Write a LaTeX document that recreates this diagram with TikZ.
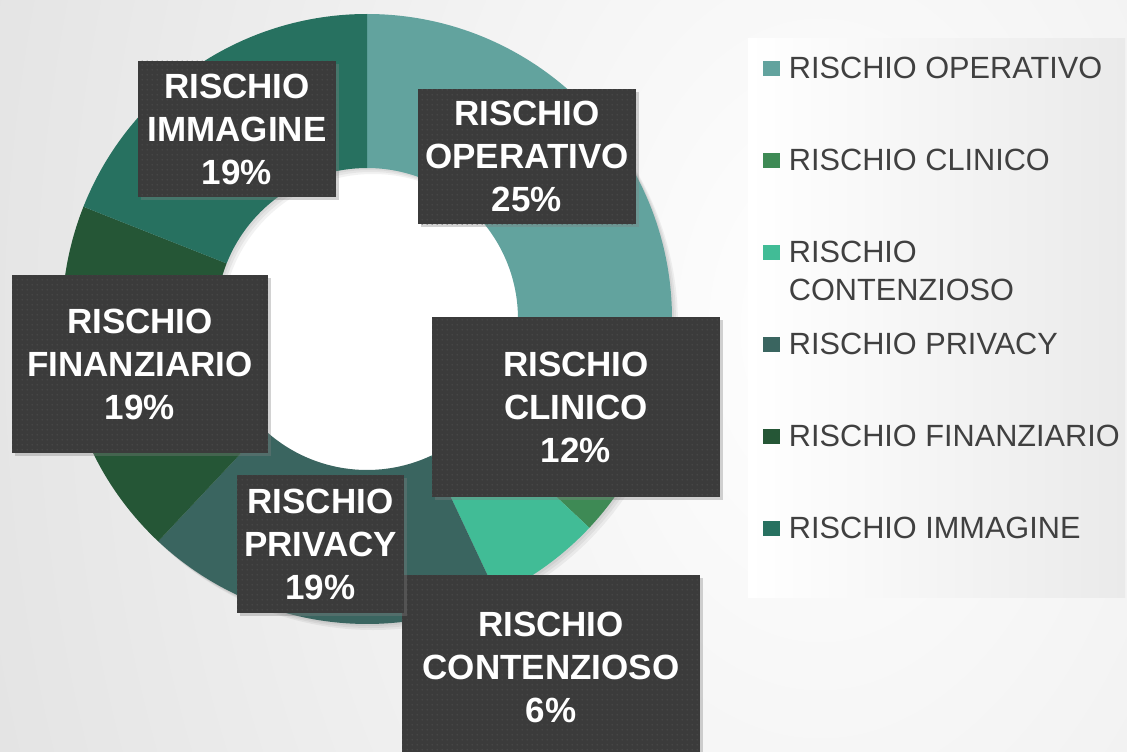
\documentclass[tikz,border=0pt]{standalone}
\usepackage{fontspec}
\setmainfont{Liberation Sans}
\usetikzlibrary{shadows,patterns}

\definecolor{riskop}{HTML}{62A39E}
\definecolor{riskcl}{HTML}{3E8A55}
\definecolor{riskcn}{HTML}{41BC96}
\definecolor{riskpr}{HTML}{3A6560}
\definecolor{riskfi}{HTML}{255636}
\definecolor{riskim}{HTML}{277160}
\definecolor{labelgray}{HTML}{3B3B3B}
\definecolor{labeldot}{HTML}{525252}
\definecolor{legendtext}{HTML}{404040}
\definecolor{legendgray}{HTML}{EAEAEA}
\definecolor{bggray}{HTML}{CDCDCD}

\pgfdeclarepatternformonly{labeldots}{\pgfpointorigin}{\pgfqpoint{5pt}{5pt}}{\pgfqpoint{5pt}{5pt}}{%
  \pgfpathcircle{\pgfqpoint{2.5pt}{2.5pt}}{0.8pt}\pgfusepath{fill}}

\tikzset{
  riskbox/.style={drop shadow={shadow xshift=3pt,shadow yshift=-3pt,opacity=.35},
    preaction={fill=labelgray},pattern=labeldots,pattern color=labeldot,
    inner sep=0pt,align=center,text=white,font=\fontsize{35}{43}\selectfont\bfseries},
  legkey/.style={fill=#1,minimum width=17pt,minimum height=15pt,inner sep=0pt},
  legtext/.style={anchor=north west,inner sep=0pt,align=left,text=legendtext,
    font=\fontsize{30.7}{38}\selectfont},
}

\begin{document}
\begin{tikzpicture}[x=1pt,y=-1pt]
  \useasboundingbox (0,0) rectangle (1127,752);
  \clip (0,0) rectangle (1127,752);
  % background
  \fill[bggray] (0,0) rectangle (1127,752);
  \shade[inner color=white,outer color=bggray] (820,330) ellipse (1600 and 2400);
  \shade[left color=white,right color=legendgray] (748,39) rectangle (1125,597);

  % donut, clockwise from the top
  \begin{scope}[shift={(367,319)}]
    \fill[white] (0,0) circle (151);
    \foreach \d in {2,4,6}
      \fill[black,opacity=.05,even odd rule] (\d,\d) circle (305) (\d,\d) circle (151);
    \fill[riskop] (-90:305) arc (-90:0:305) -- (0:151) arc (0:-90:151) -- cycle;
    \fill[riskcl] (0:305) arc (0:43.2:305) -- (43.2:151) arc (43.2:0:151) -- cycle;
    \fill[riskcn] (43.2:305) arc (43.2:64.8:305) -- (64.8:151) arc (64.8:43.2:151) -- cycle;
    \fill[riskpr] (64.8:305) arc (64.8:133.2:305) -- (133.2:151) arc (133.2:64.8:151) -- cycle;
    \fill[riskfi] (133.2:305) arc (133.2:201.6:305) -- (201.6:151) arc (201.6:133.2:151) -- cycle;
    \fill[riskim] (201.6:305) arc (201.6:270:305) -- (270:151) arc (270:201.6:151) -- cycle;
  \end{scope}

  % data labels
  \node[riskbox,minimum width=218pt,minimum height=135pt] (lblop) at (527,156.5) {RISCHIO\\OPERATIVO\\25\%};
  \node[riskbox,minimum width=288pt,minimum height=180pt] (lblcl) at (576,407) {RISCHIO\\CLINICO\\12\%};
  \node[riskbox,minimum width=298pt,minimum height=184pt] (lblcn) at (551,667) {RISCHIO\\CONTENZIOSO\\6\%};
  \node[riskbox,minimum width=167pt,minimum height=138pt] (lblpr) at (320.5,544) {RISCHIO\\PRIVACY\\19\%};
  \node[riskbox,minimum width=256pt,minimum height=178pt] (lblfi) at (140,364) {RISCHIO\\FINANZIARIO\\19\%};
  \node[riskbox,minimum width=198pt,minimum height=136pt] (lblim) at (237,129) {RISCHIO\\IMMAGINE\\19\%};

  % legend
  \node[legkey=riskop] (keyop) at (771,68.5) {};
  \node[legkey=riskcl] (keycl) at (771,160) {};
  \node[legkey=riskcn] (keycn) at (771,252) {};
  \node[legkey=riskpr] (keypr) at (771,344) {};
  \node[legkey=riskfi] (keyfi) at (771,436) {};
  \node[legkey=riskim] (keyim) at (771,528) {};
  \node[legtext] (txtop) at ([xshift=9pt,yshift=3.5pt]keyop.north east) {RISCHIO OPERATIVO};
  \node[legtext] (txtcl) at ([xshift=9pt,yshift=3.5pt]keycl.north east) {RISCHIO CLINICO};
  \node[legtext] (txtcn) at ([xshift=9pt,yshift=3.5pt]keycn.north east) {RISCHIO\\CONTENZIOSO};
  \node[legtext] (txtpr) at ([xshift=9pt,yshift=3.5pt]keypr.north east) {RISCHIO PRIVACY};
  \node[legtext] (txtfi) at ([xshift=9pt,yshift=3.5pt]keyfi.north east) {RISCHIO FINANZIARIO};
  \node[legtext] (txtim) at ([xshift=9pt,yshift=3.5pt]keyim.north east) {RISCHIO IMMAGINE};
\end{tikzpicture}
\end{document}
